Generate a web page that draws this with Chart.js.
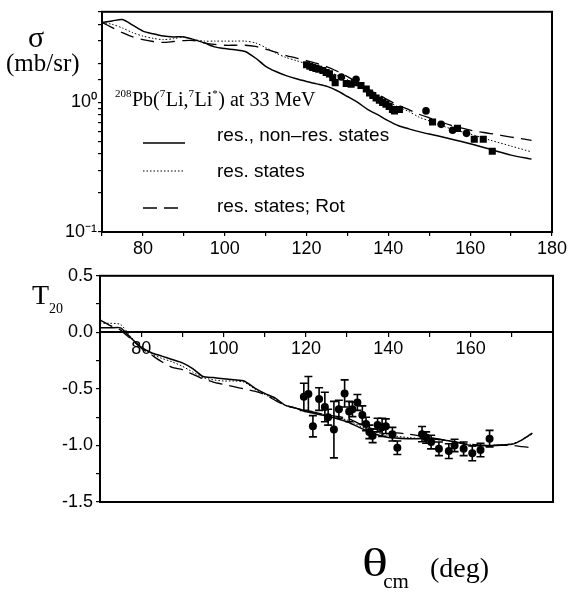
<!DOCTYPE html>
<html><head><meta charset="utf-8">
<script src="https://cdn.jsdelivr.net/npm/chart.js@4.4.1/dist/chart.umd.min.js"></script>
<style>
html,body{margin:0;padding:0;background:#fff;}
#wrap{position:relative;width:571px;height:596px;overflow:hidden;background:#fff;}
#c1{position:absolute;left:0;top:0;}
#c2{position:absolute;left:0;top:262px;}
.lbl{position:absolute;font-family:"Liberation Serif","Times New Roman",serif;color:#000;line-height:1;white-space:nowrap;}
</style></head><body>
<div id="wrap">
<canvas id="c1" width="571" height="262"></canvas>
<canvas id="c2" width="571" height="334"></canvas>
<div class="lbl" style="left:28px;top:22px;font-size:30px;">σ</div>
<div class="lbl" style="left:6px;top:50px;font-size:25px;">(mb/sr)</div>
<div class="lbl" style="left:32px;top:281px;font-size:28px;">T<span style="font-size:14px;position:relative;top:9px;">20</span></div>
<div class="lbl" style="left:362px;top:543px;font-size:40px;"><span style="display:inline-block;transform:scaleX(1.35);transform-origin:left center;">θ</span><span style="font-size:21px;position:relative;top:12px;left:2px;">cm</span></div>
<div class="lbl" style="left:430px;top:554px;font-size:28px;">(deg)</div>
</div>
<script>
// ---------- top panel: cross section ----------
const thetaTop = [70,72.5,75,77.5,80,82.5,85,87.5,90,92.5,95,97.5,100,102.5,105,107.5,110,112.5,115,117.5,120,122.5,125,127.5,130,132.5,135,137.5,140,142.5,145,147.5,150,155,160,165,170,175];
const sigmaSolid = [4.14,4.25,4.36,3.95,3.55,3.38,3.25,3.2,3.2,3.05,2.88,2.68,2.6,2.55,2.47,2.2,1.9,1.73,1.61,1.52,1.45,1.39,1.33,1.23,1.11,1.0,0.88,0.8,0.72,0.66,0.625,0.595,0.57,0.525,0.48,0.433,0.392,0.365];
const sigmaDotted = [4.14,4.0,3.75,3.45,3.25,3.12,3.05,3.1,3.2,3.05,2.97,2.97,2.97,2.97,2.97,2.88,2.65,2.4,2.22,2.1,1.98,1.86,1.74,1.62,1.5,1.36,1.22,1.13,1.01,0.92,0.85,0.77,0.72,0.63,0.57,0.51,0.46,0.415];
const sigmaDashed = [4.14,3.78,3.45,3.2,3.05,2.95,2.9,2.95,3.0,3.0,2.88,2.8,2.76,2.76,2.76,2.7,2.58,2.44,2.3,2.2,2.1,2.0,1.88,1.74,1.58,1.42,1.27,1.15,1.04,0.95,0.88,0.81,0.76,0.67,0.61,0.575,0.54,0.51];
const sqTheta = [120.0,120.8,121.5,122.3,123.0,124.0,124.8,125.6,126.4,127.0,129.7,130.9,131.7,133.3,134.6,135.4,136.2,137.0,137.8,138.6,139.4,140.2,141.0,141.5,142.7,150.8,156.9,161.0,163.2,165.4];
const sqSigma = [1.95,1.90,1.86,1.83,1.80,1.76,1.70,1.66,1.55,1.42,1.40,1.38,1.42,1.35,1.27,1.18,1.13,1.08,1.04,1.00,0.97,0.93,0.88,0.86,0.88,0.705,0.63,0.52,0.52,0.42];
const ciTheta = [128.5,132.1,149.2,152.9,155.7,159.1];
const ciSigma = [1.57,1.51,0.86,0.677,0.61,0.577];
const topXTicks = [80,100,120,140,160,180];
const legendLabels = ['res., non\u2013res. states','res. states','res. states; Rot'];

// ---------- bottom panel: T20 ----------
const thetaBot = [70,72.5,75,77.5,80,82.5,85,87.5,90,92.5,95,97.5,100,102.5,105,107.5,110,112.5,115,117.5,120,125,130,135,140,145,150,155,160,165,170,172.5,175];
const t20Solid = [0.04,0.04,0.04,-0.05,-0.13,-0.18,-0.21,-0.24,-0.27,-0.32,-0.39,-0.40,-0.41,-0.42,-0.43,-0.49,-0.54,-0.58,-0.645,-0.67,-0.70,-0.74,-0.79,-0.875,-0.93,-0.94,-0.94,-0.96,-1.0,-1.0,-0.99,-0.95,-0.89];
const t20Dotted = [0.08,0.08,0.07,-0.04,-0.14,-0.19,-0.23,-0.26,-0.30,-0.35,-0.40,-0.42,-0.43,-0.43,-0.44,-0.50,-0.55,-0.59,-0.645,-0.67,-0.695,-0.735,-0.775,-0.86,-0.91,-0.93,-0.945,-0.96,-0.99,-1.0,-0.985,-0.95,-0.90];
const t20Dashed = [0.11,0.06,0.02,-0.06,-0.14,-0.20,-0.26,-0.31,-0.33,-0.37,-0.41,-0.44,-0.46,-0.48,-0.50,-0.52,-0.55,-0.60,-0.645,-0.67,-0.69,-0.73,-0.76,-0.84,-0.88,-0.90,-0.93,-0.96,-0.99,-1.0,-1.0,-1.01,-1.02];
const expTheta = [119.5,120.6,121.7,123.2,124.6,125.4,126.8,128.0,129.4,130.5,131.3,132.5,133.7,134.6,135.4,136.2,137.4,138.5,139.4,141.0,142.2,148.2,149.2,150.4,152.3,154.7,156.1,158.3,160.4,162.4,164.6];
const expT20 = [-0.57,-0.545,-0.83,-0.59,-0.66,-0.75,-0.86,-0.68,-0.54,-0.70,-0.68,-0.62,-0.73,-0.81,-0.88,-0.915,-0.82,-0.84,-0.83,-0.90,-1.02,-0.90,-0.93,-0.97,-1.03,-1.05,-1.00,-1.03,-1.07,-1.04,-0.94];
const expErr = [0.12,0.155,0.094,0.10,0.13,0.07,0.25,0.08,0.12,0.09,0.065,0.07,0.08,0.06,0.06,0.06,0.06,0.08,0.065,0.06,0.06,0.067,0.05,0.06,0.06,0.065,0.055,0.06,0.065,0.06,0.073];

function pts(xs, ys){ return xs.map((x,i)=>({x:x, y:ys[i]})); }

const FONT_SANS = '"Liberation Sans", Arial, Helvetica, sans-serif';
const FONT_SERIF = '"Liberation Serif", "Times New Roman", serif';

const framePlugin = {
  id:'frame',
  afterDatasetsDraw(chart){
    const a = chart.chartArea, ctx = chart.ctx;
    ctx.save();
    ctx.strokeStyle = '#000'; ctx.lineWidth = 2;
    ctx.strokeRect(a.left, a.top, a.right - a.left, a.bottom - a.top);
    ctx.restore();
  }
};

const legendPlugin = {
  id:'innerLegend',
  afterDraw(chart, args, opts){
    const ctx = chart.ctx;
    ctx.save();
    let x = opts.titleX; const base = opts.titleY;
    opts.title.forEach(s=>{
      ctx.font = (s.sup ? '11px ' : '20px ') + FONT_SERIF;
      ctx.fillStyle = '#000';
      ctx.textBaseline = 'alphabetic';
      ctx.fillText(s.t, x, s.sup ? base - 9 : base);
      x += ctx.measureText(s.t).width + (s.sup ? 0.5 : 0);
    });
    opts.rows.forEach((r, i)=>{
      const ds = chart.data.datasets[i];
      ctx.beginPath();
      ctx.strokeStyle = ds.borderColor; ctx.lineWidth = ds.borderWidth;
      ctx.setLineDash(ds.borderDash || []);
      ctx.moveTo(opts.lineX0, r.ly); ctx.lineTo(opts.lineX1, r.ly);
      ctx.stroke();
      ctx.setLineDash([]);
      ctx.font = '19px ' + FONT_SANS;
      ctx.fillStyle = '#000';
      ctx.textBaseline = 'middle';
      ctx.fillText(ds.label, opts.textX, r.ty);
    });
    ctx.restore();
  }
};

const errPlugin = {
  id:'errBars',
  beforeDatasetsDraw(chart){
    const ctx = chart.ctx, ys = chart.scales.y;
    chart.data.datasets.forEach((ds, di)=>{
      if (!ds.errors) return;
      const meta = chart.getDatasetMeta(di);
      ctx.save();
      ctx.strokeStyle = '#000'; ctx.lineWidth = 1.6;
      meta.data.forEach((el, i)=>{
        const v = ds.data[i].y, e = ds.errors[i];
        const yt = ys.getPixelForValue(v + e), yb = ys.getPixelForValue(v - e);
        ctx.beginPath();
        ctx.moveTo(el.x, yt); ctx.lineTo(el.x, yb);
        ctx.moveTo(el.x - 4, yt); ctx.lineTo(el.x + 4, yt);
        ctx.moveTo(el.x - 4, yb); ctx.lineTo(el.x + 4, yb);
        ctx.stroke();
      });
      ctx.restore();
    });
  }
};

const tickFont = {family: FONT_SANS, size: 18};
const axisGrid = {display:true, drawOnChartArea:false, drawTicks:true, tickLength:4, color:'#000', lineWidth:1.2};

new Chart(document.getElementById('c1'), {
  type:'scatter',
  data:{datasets:[
    {label:legendLabels[0], data:pts(thetaTop, sigmaSolid), showLine:true, borderColor:'#000', borderWidth:1.5, pointRadius:0, tension:0.25},
    {label:legendLabels[1], data:pts(thetaTop, sigmaDotted), showLine:true, borderColor:'#000', borderWidth:1, borderDash:[1.5,2], pointRadius:0, tension:0.25},
    {label:legendLabels[2], data:pts(thetaTop, sigmaDashed), showLine:true, borderColor:'#000', borderWidth:1.3, borderDash:[14,7], pointRadius:0, tension:0.25},
    {label:'data (sq)', data:pts(sqTheta, sqSigma), showLine:false, pointStyle:'rect', pointRadius:5, backgroundColor:'#000', borderColor:'#000', borderWidth:0},
    {label:'data (ci)', data:pts(ciTheta, ciSigma), showLine:false, pointStyle:'circle', pointRadius:3.8, backgroundColor:'#000', borderColor:'#000', borderWidth:0}
  ]},
  options:{
    responsive:false, animation:false, devicePixelRatio:1,
    layout:{padding:{top:6, right:19, bottom:0, left:0}},
    plugins:{legend:{display:false}, tooltip:{enabled:false},
      innerLegend:{
        titleX:115, titleY:106,
        title:[{t:'208',sup:true},{t:'Pb('},{t:'7',sup:true},{t:'Li,'},{t:'7',sup:true},{t:'Li'},{t:'*',sup:true},{t:') at 33 MeV'}],
        lineX0:143, lineX1:185, textX:217,
        rows:[{ly:143, ty:136},{ly:171, ty:172},{ly:208, ty:207}]
      }},
    scales:{
      x:{type:'linear', min:70, max:180,
        afterFit:(s)=>{ s.height = 30; },
        border:{display:false},
        grid:axisGrid,
        ticks:{stepSize:10, autoSkip:false, maxRotation:0, padding:2, color:'#000', font:tickFont,
          callback:(v)=> topXTicks.includes(v) ? String(v) : ''}},
      y:{type:'logarithmic', min:0.1, max:5,
        afterFit:(s)=>{ s.width = 102; },
        border:{display:false},
        grid:axisGrid,
        ticks:{autoSkip:false, padding:1, color:'#000', font:tickFont,
          callback:(v)=> Math.abs(v-1)<1e-9 ? '10\u2070' : (Math.abs(v-0.1)<1e-9 ? '10\u207B\u00B9' : '')}}
    }
  },
  plugins:[framePlugin, legendPlugin]
});

const botXTicks = [80,100,120,140,160];
new Chart(document.getElementById('c2'), {
  type:'scatter',
  data:{datasets:[
    {label:legendLabels[0], data:pts(thetaBot, t20Solid), showLine:true, borderColor:'#000', borderWidth:1.5, pointRadius:0, tension:0.2},
    {label:legendLabels[1], data:pts(thetaBot, t20Dotted), showLine:true, borderColor:'#000', borderWidth:1, borderDash:[1.5,2], pointRadius:0, tension:0.2},
    {label:legendLabels[2], data:pts(thetaBot, t20Dashed), showLine:true, borderColor:'#000', borderWidth:1.3, borderDash:[14,7], pointRadius:0, tension:0.2},
    {label:'T20 data', data:pts(expTheta, expT20), errors:expErr, showLine:false, pointStyle:'circle', pointRadius:4, backgroundColor:'#000', borderColor:'#000', borderWidth:0}
  ]},
  options:{
    responsive:false, animation:false, devicePixelRatio:1,
    layout:{padding:{top:11, right:18, bottom:94, left:0}},
    plugins:{legend:{display:false}, tooltip:{enabled:false}},
    scales:{
      x:{type:'linear', min:70, max:180, position:{y:0},
        border:{display:true, color:'#000', width:2},
        grid:axisGrid,
        ticks:{stepSize:10, autoSkip:false, maxRotation:0, padding:2, color:'#000', font:tickFont,
          callback:(v)=> botXTicks.includes(v) ? String(v) : ''}},
      y:{type:'linear', min:-1.5, max:0.5,
        afterFit:(s)=>{ s.width = 100; },
        border:{display:false},
        grid:axisGrid,
        ticks:{stepSize:0.25, autoSkip:false, padding:3, color:'#000', font:tickFont,
          callback:(v)=> Math.abs(v*2 - Math.round(v*2))<1e-6 ? v.toFixed(1) : ''}}
    }
  },
  plugins:[framePlugin, errPlugin]
});
</script>
</body></html>
